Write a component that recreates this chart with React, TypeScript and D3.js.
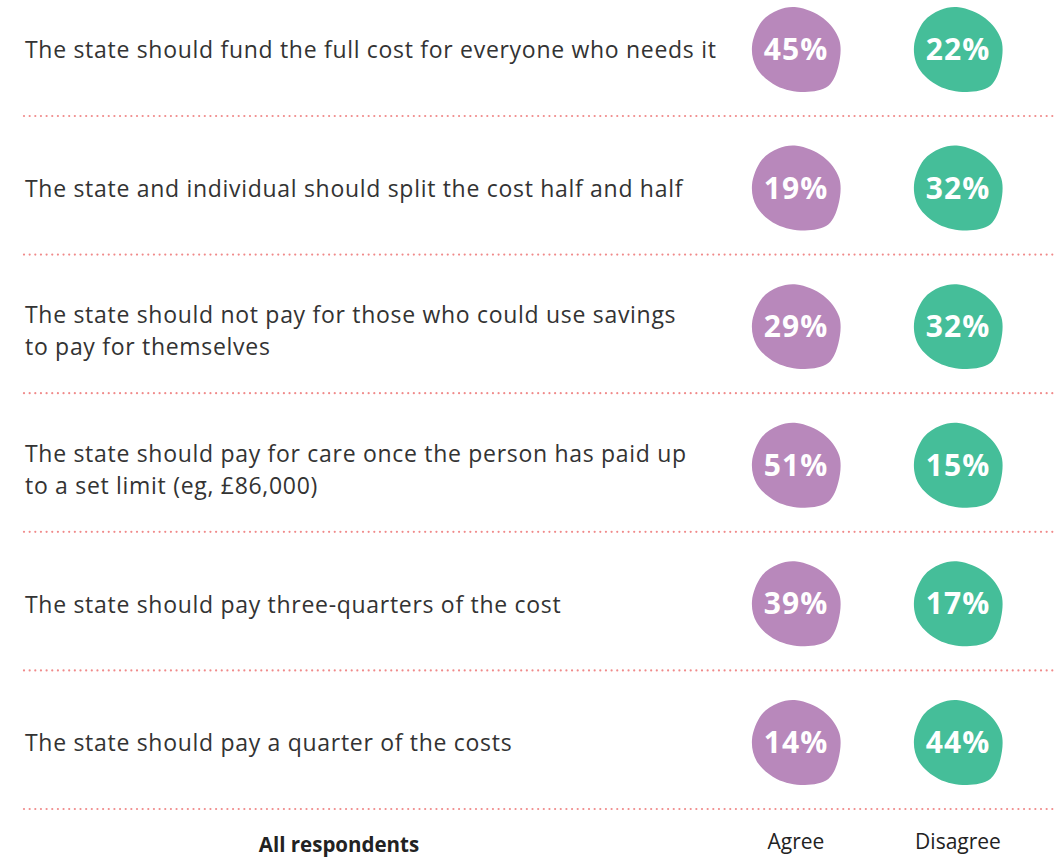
import React from "react";
import * as d3 from "d3";

const statements: string[][] = [
  ["The state should fund the full cost for everyone who needs it"],
  ["The state and individual should split the cost half and half"],
  ["The state should not pay for those who could use savings", "to pay for themselves"],
  ["The state should pay for care once the person has paid up", "to a set limit (eg, £86,000)"],
  ["The state should pay three-quarters of the cost"],
  ["The state should pay a quarter of the costs"],
];
const agree = [45, 19, 29, 51, 39, 14];
const disagree = [22, 32, 32, 15, 17, 44];
const columns = ["Agree", "Disagree"];
const footerLabel = "All respondents";

const W = 1057;
const H = 858;
const FONT = "'Open Sans', 'DejaVu Sans', sans-serif";
const colColors: Record<string, string> = { Agree: "#b888bb", Disagree: "#45be99" };

const blobPts: [number, number][] = [
  [0.7, -42], [27.3, -31], [43.3, -9.3], [42.3, 17.3], [32.3, 36.7], [9, 42.7],
  [-19.3, 36.7], [-39.3, 19], [-44, -2.7], [-34.3, -27.7], [-17.7, -39.3],
];

export default function App() {
  const idx = d3.range(statements.length);
  const y = d3.scaleBand<number>().domain(idx).range([-22.6, 809]).padding(0);
  const x = d3.scalePoint<string>().domain(columns).range([796, 958]);
  const blob = d3.line().curve(d3.curveCatmullRomClosed.alpha(0.5))(blobPts) || "";
  const bw = y.bandwidth();
  const dots = d3.range(24, W, 5.65);

  return (
    <svg width={W} height={H} style={{ position: "absolute", left: 0, top: 0, background: "#fff" }}>
      {idx.map((i) => {
        const top = y(i)!;
        const cy = top + bw / 2 + 2.5;
        const lineY = top + bw;
        const lines = statements[i];
        const vals = [agree[i], disagree[i]];
        const n = lines.length;
        return (
          <g key={i}>
            {lines.map((t, k) => (
              <text
                key={k}
                x={25}
                y={cy + 9 + (k - (n - 1) / 2) * 32 + (n > 1 ? 4 : 0)}
                fontFamily={FONT}
                fontSize={23}
                letterSpacing={0.7}
                fill="#333"
              >
                {t}
              </text>
            ))}
            {columns.map((c, j) => (
              <g key={c} transform={`translate(${x(c)},${cy})`}>
                <path d={blob} fill={colColors[c]} />
                <text
                  textAnchor="middle"
                  dy="0.36em"
                  fontFamily={FONT}
                  fontWeight={700}
                  fontSize={30}
                  fill="#fff"
                  letterSpacing={1}
                >
                  {vals[j]}%
                </text>
              </g>
            ))}
            {dots.map((dx, k) => (
              <circle key={k} cx={dx} cy={lineY} r={1.1} fill="#f08a8a" />
            ))}
          </g>
        );
      })}
      <text x={339} y={852} textAnchor="middle" fontFamily={FONT} fontWeight={700} fontSize={20.5} fill="#222">
        {footerLabel}
      </text>
      {columns.map((c) => (
        <text key={c} x={x(c)} y={849} textAnchor="middle" fontFamily={FONT} fontSize={21} fill="#222">
          {c}
        </text>
      ))}
    </svg>
  );
}
